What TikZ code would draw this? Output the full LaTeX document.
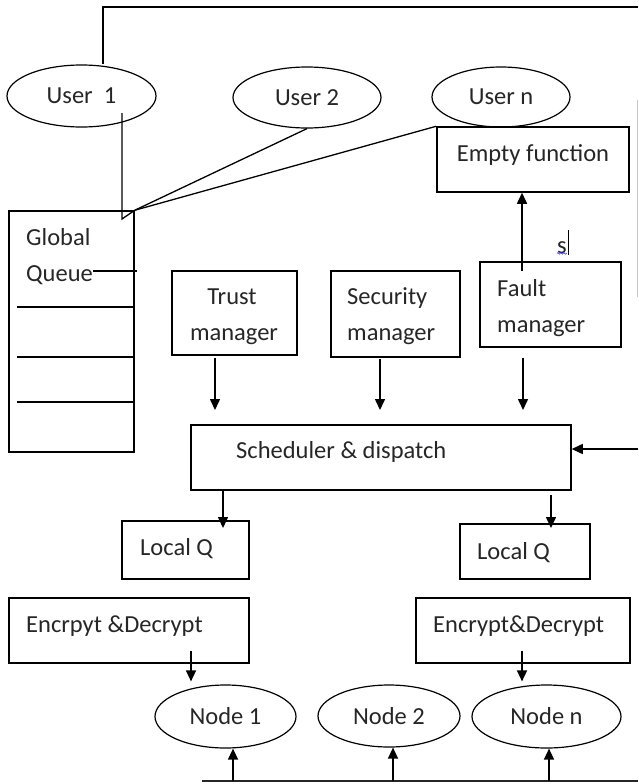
\documentclass[tikz,border=0pt]{standalone}
\usepackage{fontspec}
\setmainfont{Carlito}
\usetikzlibrary{arrows.meta,shapes.geometric,decorations.pathmorphing}
\definecolor{txtcol}{HTML}{262626}
\tikzset{
  box/.style={draw, rectangle, line width=1.5pt, inner sep=0pt},
  oval/.style={draw, ellipse, line width=1.2pt, inner sep=0pt, text=txtcol, font=\fontsize{24.5}{30}\selectfont},
  txt/.style={inner sep=0pt, text=txtcol, font=\fontsize{24.5}{30}\selectfont},
  arr/.style={-{Triangle[length=11pt,width=10pt]}, line width=1.5pt},
  ln/.style={line width=1.5pt}
}
\begin{document}
\begin{tikzpicture}[x=1pt,y=-1pt]
\useasboundingbox (0,0) rectangle (638,784);
% ellipses
\node[oval, minimum width=149pt, minimum height=62pt] (user1) at (81.5,96) {User\ \ 1};
\node[oval, minimum width=148pt, minimum height=61pt] (user2) at (307,97.5) {User 2};
\node[oval, minimum width=138pt, minimum height=60pt] (usern) at (501,97) {User n};
\node[oval, minimum width=141pt, minimum height=63pt] (node1) at (225.5,716.5) {Node 1};
\node[oval, minimum width=142pt, minimum height=62pt] (node2) at (389,716) {Node 2};
\node[oval, minimum width=149pt, minimum height=63pt] (noden) at (546.5,716.5) {Node n};
% boxes
\node[box, fill=white, minimum width=192pt, minimum height=65pt] (empty) at (533,159.5) {};
\node[box, minimum width=125pt, minimum height=241pt] (gqueue) at (71.5,331.5) {};
\node[box, minimum width=125pt, minimum height=84pt] (trust) at (234.5,313) {};
\node[box, minimum width=129pt, minimum height=86pt] (security) at (395.5,314) {};
\node[box, minimum width=141pt, minimum height=85pt] (fault) at (550.5,304.5) {};
\node[box, minimum width=380pt, minimum height=65pt] (sched) at (381,457.5) {};
\node[box, minimum width=127pt, minimum height=58pt] (lq1) at (185.5,550) {};
\node[box, minimum width=130pt, minimum height=55pt] (lq2) at (525,551.5) {};
\node[box, minimum width=240pt, minimum height=65pt] (enc1) at (129,630.5) {};
\node[box, minimum width=214pt, minimum height=65pt] (enc2) at (523,630.5) {};
% texts
\node[txt, anchor=base] (emptyT) at (533,161) {Empty function};
\node[txt, anchor=base west] (gqT1) at (26,245) {Global};
\node[txt, anchor=base west] (gqT2) at (26,281) {Queue};
\node[txt, anchor=base] (trustT1) at (232,304) {Trust};
\node[txt, anchor=base] (trustT2) at (234,340) {manager};
\node[txt, anchor=base west] (secT1) at (347,304) {Security};
\node[txt, anchor=base west] (secT2) at (347,340) {manager};
\node[txt, anchor=base west] (faultT1) at (497,296) {Fault};
\node[txt, anchor=base west] (faultT2) at (497,332) {manager};
\node[txt, anchor=base west] (schedT) at (236,458) {Scheduler \& dispatch};
\node[txt, anchor=base west] (lq1T) at (140,555) {Local Q};
\node[txt, anchor=base west] (lq2T) at (477,559) {Local Q};
\node[txt, anchor=base west] (enc1T) at (26,632) {Encrpyt \&Decrypt};
\node[txt, anchor=base west] (enc2T) at (433,632) {Encrypt\&Decrypt};
\node[txt, anchor=base west] (sT) at (557,253) {s};
\draw[blue!80, line width=0.6pt, decorate, decoration={snake, amplitude=0.8pt, segment length=3pt}] (sT.south west) -- (sT.south east);
\draw[line width=0.8pt] ([xshift=1.5pt]sT.east |- 0,230) -- ([xshift=1.5pt]sT.east |- 0,255);
% global queue inner lines
\draw[ln] (17,307) -- (17,307 -| gqueue.east);
\draw[ln] (17,357) -- (17,357 -| gqueue.east);
\draw[ln] (17,402) -- (17,402 -| gqueue.east);
\draw[ln] (93,271) -- (137,271);
% frame line from User 1 to right edge
\coordinate (ftop) at (103,7);
\coordinate (fright) at (638,7);
\draw[ln] (ftop |- user1.north) -- (ftop) -- (fright);
\draw[gray!45, line width=1pt] (637,100) -- (637,297);
\coordinate (rin) at (638,449);
\draw[arr] (rin) -- (rin -| sched.east);
% user lines to global queue
\coordinate (u1s) at (122,113);
\coordinate (u1b) at (122,219);
\draw[line width=1.3pt] (u1s) -- (u1b) -- (gqueue.north east);
\draw[line width=1.3pt] (user2.south) -- (gqueue.north east);
\draw[line width=1.3pt] (empty.north west) -- (gqueue.north east);
% fault -> empty
\coordinate (fA) at (522,271);
\draw[arr] (fA) -- (fA |- empty.south);
% managers -> scheduler
\coordinate (tA) at (215,410);
\coordinate (sA) at (380,410);
\coordinate (faA) at (523,410);
\draw[arr] ([yshift=-2pt]trust.south -| tA) -- (tA);
\draw[arr] ([yshift=-1pt]security.south -| sA) -- (sA);
\draw[arr] ([yshift=-10pt]fault.south -| faA) -- (faA);
% scheduler -> local Q
\coordinate (l1A) at (223,528);
\coordinate (l2A) at (551,528);
\draw[arr] (l1A |- sched.south) -- (l1A);
\draw[arr] ([yshift=-4pt]sched.south -| l2A) -- (l2A);
% encrypt -> nodes
\coordinate (e1A) at (191,651);
\coordinate (e2A) at (522,651);
\draw[arr, shorten >=3pt] (e1A) -- (e1A |- node1.north);
\draw[arr, shorten >=3pt] (e2A) -- (e2A |- noden.north);
% bottom bus
\coordinate (busL) at (202,781);
\coordinate (busR) at (638,781);
\draw[line width=1.8pt, black!85] (busL) -- (busR);
\coordinate (b1) at (233,781);
\coordinate (b2) at (393,781);
\coordinate (bn) at (549,781);
\draw[arr] (b1) -- (b1 |- node1.south);
\draw[arr] (b2) -- (b2 |- node2.south);
\draw[arr] (bn) -- (bn |- noden.south);
\end{tikzpicture}
\end{document}
